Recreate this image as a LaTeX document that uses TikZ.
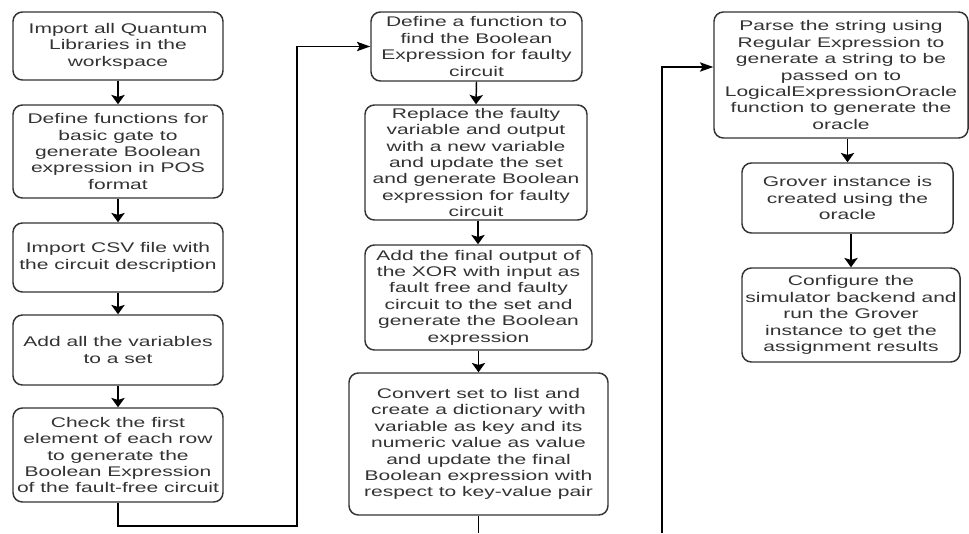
\documentclass[tikz,border=0pt]{standalone}
\usepackage{fontspec}
\setmainfont[FakeStretch=1.5]{Liberation Sans}
\usetikzlibrary{arrows.meta}
\definecolor{txt}{HTML}{333333}
\definecolor{edge}{HTML}{333333}
\begin{document}
\begin{tikzpicture}[x=0.75pt,y=-0.75pt,
 box/.style={draw=edge, line width=1.1pt, rounded corners=7pt, align=center, inner sep=1pt, text=txt, font=\fontsize{10.5}{12.3}\selectfont},
 link/.style={draw=black, line width=1.1pt},
 varr/.style={link, -{Stealth[length=7pt,width=10pt,inset=1.5pt]}},
 harr/.style={link, -{Stealth[length=10pt,width=7pt,inset=2pt]}}]
\useasboundingbox (0,0) rectangle (969,533);
% column 1
\node[box, minimum width=157.5pt, minimum height=51pt] (B1) at (118,46) {Import all Quantum\\Libraries in the\\workspace};
\node[box, minimum width=157.5pt, minimum height=69.75pt] (B2) at (118,151.5) {Define functions for\\basic gate to\\generate Boolean\\expression in POS\\format};
\node[box, minimum width=157.5pt, minimum height=51.75pt] (B3) at (118,257.5) {Import CSV file with\\the circuit description};
\node[box, minimum width=157.5pt, minimum height=52.5pt] (B4) at (118,350) {Add all the variables\\to a set};
\node[box, minimum width=157.5pt, minimum height=70.5pt] (B5) at (118,455) {Check the first\\element of each row\\to generate the\\Boolean Expression\\of the fault-free circuit};
% column 2
\node[box, minimum width=158.25pt, minimum height=51.75pt] (B6) at (476.5,46.5) {Define a function to\\find the Boolean\\Expression for faulty\\circuit};
\node[box, minimum width=166.5pt, minimum height=86.25pt] (B7) at (476,162.5) {Replace the faulty\\variable and output\\with a new variable\\and update the set\\and generate Boolean\\expression for faulty\\circuit};
\node[box, minimum width=170.25pt, minimum height=78.75pt] (B8) at (478.5,297.5) {Add the final output of\\the XOR with input as\\fault free and faulty\\circuit to the set and\\generate the Boolean\\expression};
\node[box, minimum width=194.25pt, minimum height=106.5pt] (B9) at (478.5,444) {Convert set to list and\\create a dictionary with\\variable as key and its\\numeric value as value\\and update the final\\Boolean expression with\\respect to key-value pair};
% column 3
\node[box, minimum width=190.5pt, minimum height=94.5pt] (B10) at (841,75) {Parse the string using\\Regular Expression to\\generate a string to be\\passed on to\\LogicalExpressionOracle\\function to generate the\\oracle};
\node[box, minimum width=158.25pt, minimum height=52.5pt] (B11) at (847.5,198) {Grover instance is\\created using the\\oracle};
\node[box, minimum width=163.5pt, minimum height=70.5pt] (B12) at (851,315) {Configure the\\simulator backend and\\run the Grover\\instance to get the\\assignment results};
% connectors
\draw[varr] (B1) -- (B2);
\draw[varr] (B2) -- (B3);
\draw[varr] (B3) -- (B4);
\draw[varr] (B4) -- (B5);
\coordinate (c1) at (297,526);
\draw[harr] (B5.south) -- (B5.south |- c1) -- (c1) |- (B6.west);
\draw[varr] (B6.south) -- (B7.north);
\draw[varr] (B7.south -| 478,0) -- (B8.north -| 478,0);
\draw[varr] (B8.south) -- (B9.north);
\coordinate (e1) at (478.5,533);
\draw[link] (B9.south) -- (e1);
\coordinate (e2) at (662,533);
\coordinate (e3) at (662,67);
\draw[harr] (e2) -- (e3) -- (e3 -| B10.west);
\draw[varr] (B10.south -| B11.north) -- (B11.north);
\draw[varr] (B11.south -| B12.north) -- (B12.north);
\end{tikzpicture}
\end{document}
